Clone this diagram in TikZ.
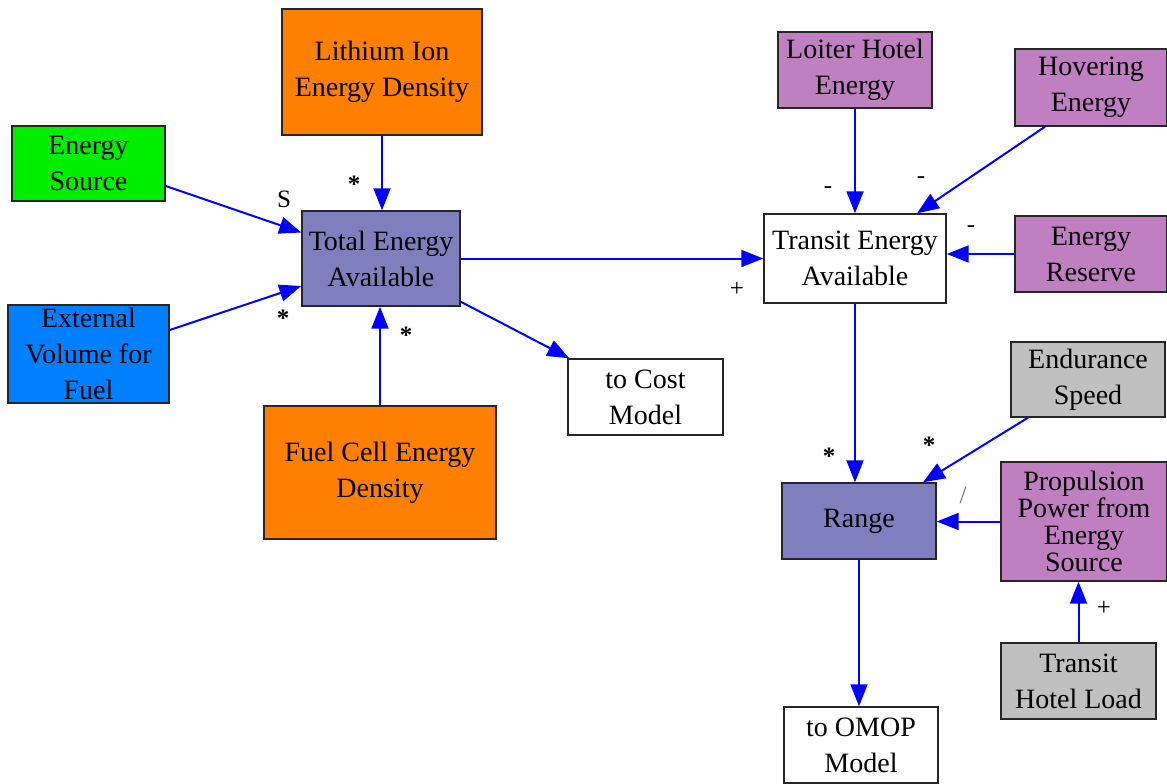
\documentclass[tikz,border=0pt]{standalone}
\usepackage{fontspec}
\setmainfont{Liberation Serif}
\usepackage{xcolor}
\usepackage{tikz}
\usetikzlibrary{arrows.meta, positioning, calc}
\definecolor{FlowBlue}{HTML}{0000FF}
\definecolor{DensityOrange}{HTML}{FF8000}
\definecolor{SourceGreen}{HTML}{00EE00}
\definecolor{VolumeBlue}{HTML}{0080FF}
\definecolor{SumSlate}{HTML}{7F7FBF}
\definecolor{DrawPurple}{HTML}{C07FC0}
\definecolor{FixedGrey}{HTML}{C0C0C0}

\begin{document}
\begin{tikzpicture}[x=1pt, y=-1pt, >={Triangle[length=22pt,width=17pt]}]
    \tikzstyle{block} = [rectangle, draw=black!85, line width=1.4pt, inner sep=0pt, align=center, font=\fontsize{28}{36}\selectfont]
    \tikzstyle{line} = [draw, ->, line width=2pt, FlowBlue]
    \tikzstyle{sign} = [inner sep=0pt, font=\fontsize{25}{25}\selectfont]
    \tikzstyle{star} = [inner sep=0pt, font=\fontsize{25}{25}\selectfont\bfseries]
    \useasboundingbox (0,0) rectangle (1167,784);

    % energy storage side
    \node [block, fill=DensityOrange, minimum width=200, minimum height=126] (li) at (382,72) {Lithium Ion\\Energy Density};
    \node [block, fill=SourceGreen, minimum width=153, minimum height=75] (src) at (88.5,163.5) {Energy\\Source};
    \node [block, fill=SumSlate, minimum width=158, minimum height=95] (tea) at (381,258.5) {Total Energy\\Available};
    \node [block, fill=VolumeBlue, minimum width=161, minimum height=98] (ext) at (88.5,354) {External\\Volume for\\Fuel};
    \node [block, fill=DensityOrange, minimum width=232, minimum height=133] (fc) at (380,472.5) {Fuel Cell Energy\\Density};
    \node [block, fill=white, minimum width=155, minimum height=76] (cost) at (645.5,397) {to Cost\\Model};

    % mission side
    \node [block, fill=DrawPurple, minimum width=154, minimum height=76] (loit) at (855,70) {Loiter Hotel\\Energy};
    \node [block, fill=DrawPurple, minimum width=152, minimum height=77] (hov) at (1091,87.5) {Hovering\\Energy};
    \node [block, fill=white, minimum width=182, minimum height=89] (transit) at (855,258.5) {Transit Energy\\Available};
    \node [block, fill=DrawPurple, minimum width=152, minimum height=76] (reserve) at (1091,254) {Energy\\Reserve};
    \node [block, fill=FixedGrey, minimum width=154, minimum height=75] (endur) at (1088,379.5) {Endurance\\Speed};
    \node [block, fill=SumSlate, minimum width=154, minimum height=76] (range) at (859,521) {Range};
    \node [block, fill=DrawPurple, minimum width=166, minimum height=119, font=\fontsize{28}{27}\selectfont] (prop) at (1084,521.5) {Propulsion\\Power from\\Energy\\Source};
    \node [block, fill=FixedGrey, minimum width=155, minimum height=76] (thl) at (1078.5,681) {Transit\\Hotel Load};
    \node [block, fill=white, minimum width=154, minimum height=76] (omop) at (861,745) {to OMOP\\Model};

    % links
    \path [line] ([yshift=-22.5pt]src.east) -- ([yshift=26pt]tea.west);
    \path [line] ([yshift=24pt]ext.east) -- ([yshift=-27.5pt]tea.west);
    \path [line] (li.south) -- (li.south |- tea.north);
    \path [line] (fc.north) -- (fc.north |- tea.south);
    \path [line] ([yshift=5pt]tea.south east) -- ([xshift=2pt]cost.north west);
    \path [line] (tea.east) -- (transit.west);
    \path [line] (loit.south) -- (loit.south |- transit.north);
    \path [line] ([xshift=-46pt]hov.south) -- ([xshift=62pt]transit.north);
    \path [line] (reserve.west) -- (reserve.west -| transit.east);
    \path [line] (transit.south) -- (transit.south |- range.north);
    \path [line] ([xshift=-60pt]endur.south) -- ([xshift=64pt]range.north);
    \path [line] (prop.west) -- (prop.west -| range.east);
    \path [line] (range.south) -- (range.south |- omop.north);
    \path [line] (thl.north) -- (thl.north |- prop.south);

    % polarity marks
    \node [sign] (mS) at (284,199) {S};
    \node [star] (mLi) at (354,184) {*};
    \node [star] (mExt) at (283,318) {*};
    \node [star] (mFc) at (406,335) {*};
    \node [sign] (mTea) at (737,289) {+};
    \node [sign] (mLoit) at (828,190) {-};
    \node [sign] (mHov) at (921,180) {-};
    \node [sign] (mRes) at (971,229) {-};
    \node [star] (mTr) at (829,456) {*};
    \node [star] (mEnd) at (929,445) {*};
    \node [sign, black!55] (mProp) at (963,495) {/};
    \node [sign] (mThl) at (1104,608) {+};
\end{tikzpicture}
\end{document}
